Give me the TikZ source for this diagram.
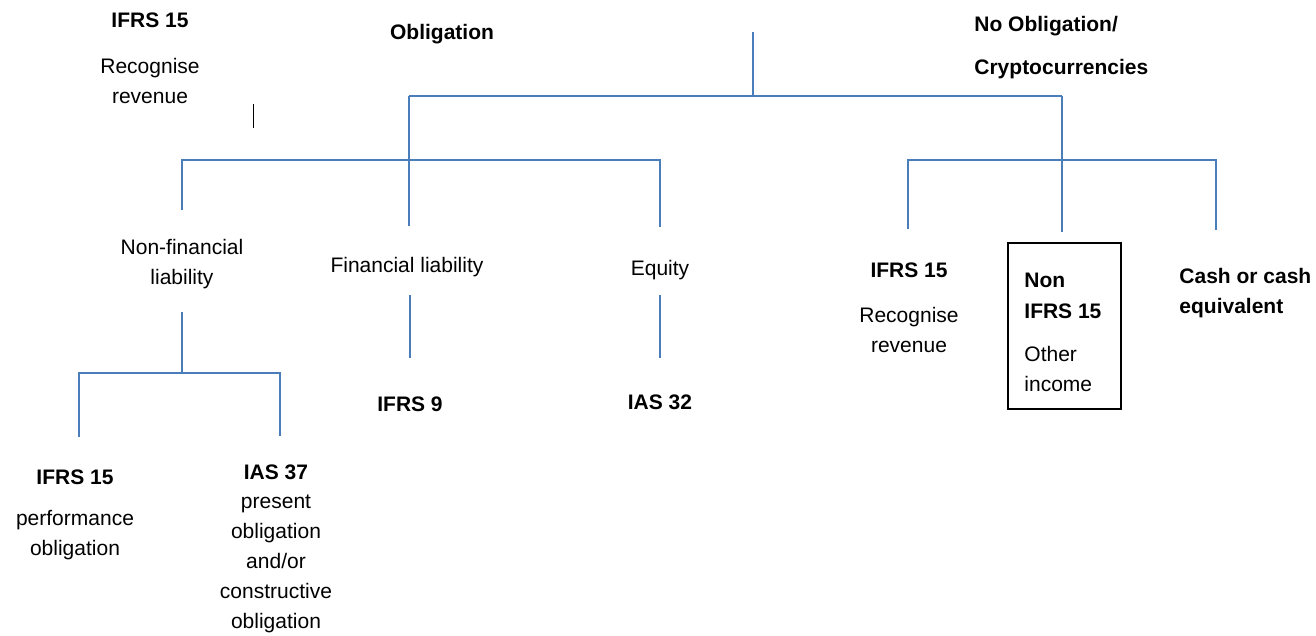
\documentclass[tikz,border=0pt]{standalone}
\usepackage{fontspec}
\setmainfont{Liberation Sans}
\definecolor{treeblue}{RGB}{74,126,187}
\begin{document}
\begin{tikzpicture}[x=0.5pt, y=-0.5pt, font=\fontsize{10.5}{15}\selectfont,
  branch/.style = {draw=treeblue, line width=1pt},
  txt/.style = {align=center, inner sep=1pt},
  hd/.style = {txt, font=\fontsize{10.5}{15}\selectfont\bfseries},
  frame/.style = {draw, line width=0.55pt, minimum width=56.5pt, minimum height=83pt, inner sep=0pt}]
	\useasboundingbox (0,0) rectangle (1316,636);

	% top row
	\node[hd] (ifrsL) at (150,20) {IFRS 15};
	\node[txt] (recL) at (150,81) {Recognise\\revenue};
	\node[hd] (oblig) at (442,34) {Obligation};
	\node[hd, anchor=west] (noobl) at (972,26) {No Obligation/};
	\node[hd, anchor=west] (crypto) at (972,69) {Cryptocurrencies};

	% middle row
	\node[txt] (nonfin) at (182,264) {Non-financial\\liability};
	\node[txt] (fin) at (407,267) {Financial liability};
	\node[txt] (equity) at (660,270) {Equity};
	\node[hd] (ifrsR) at (909,270) {IFRS 15};
	\node[txt] (recR) at (909,330) {Recognise\\revenue};
	\node[frame] (box) at (1064.5,326) {};
	\node[hd, anchor=west] (non) at (1022,280) {Non};
	\node[hd, anchor=west] (ifrsO) at (1022,311) {IFRS 15};
	\node[txt, anchor=west, align=left] (other) at (1022,369) {Other\\income};
	\node[hd, anchor=west, align=left] (cash) at (1177,293) {Cash or cash\\equivalent};

	% bottom row
	\node[hd] (ifrs9) at (410,404) {IFRS 9};
	\node[hd] (ias32) at (660,402) {IAS 32};
	\node[hd] (ifrsP) at (75,477) {IFRS 15};
	\node[txt] (perf) at (75,535) {performance\\obligation};
	\node[hd] (ias37) at (276,472) {IAS 37};
	\node[txt] (pres) at (276,564) {present\\obligation\\and/or\\constructive\\obligation};

	% junctions
	\coordinate (root) at (753,32);
	\coordinate (hub) at (753,96);
	\coordinate (oblHub) at (409,96);
	\coordinate (noHub) at (1062,96);
	\coordinate (finEnd) at (409,226);
	\coordinate (noEnd) at (1062,232);
	\coordinate (nfBar) at (182,160);
	\coordinate (eqBar) at (660,160);
	\coordinate (nfEnd) at (182,210);
	\coordinate (eqEnd) at (660,227);
	\coordinate (revBar) at (908,160);
	\coordinate (cashBar) at (1216,160);
	\coordinate (revEnd) at (908,229);
	\coordinate (cashEnd) at (1216,230);
	\coordinate (nfStem) at (182,312);
	\coordinate (nfHub) at (182,373);
	\coordinate (perfBar) at (79,373);
	\coordinate (presBar) at (280,373);
	\coordinate (perfEnd) at (79,437);
	\coordinate (presEnd) at (280,436);
	\coordinate (finA) at (410,295);
	\coordinate (finB) at (410,358);
	\coordinate (eqA) at (660,295);
	\coordinate (eqB) at (660,358);
	\coordinate (tickA) at (253,104);
	\coordinate (tickB) at (253,128);

	\draw[branch] (root) -- (hub);
	\draw[branch] (oblHub) -- (noHub);
	\draw[branch] (oblHub) -- (finEnd);
	\draw[branch] (noHub) -- (noEnd);
	\draw[branch] (nfEnd) -- (nfBar) -- (eqBar) -- (eqEnd);
	\draw[branch] (revEnd) -- (revBar) -- (cashBar) -- (cashEnd);
	\draw[branch] (nfStem) -- (nfHub);
	\draw[branch] (perfEnd) -- (perfBar) -- (presBar) -- (presEnd);
	\draw[branch] (finA) -- (finB);
	\draw[branch] (eqA) -- (eqB);
	\draw[line width=0.5pt] (tickA) -- (tickB);

\end{tikzpicture}
\end{document}
